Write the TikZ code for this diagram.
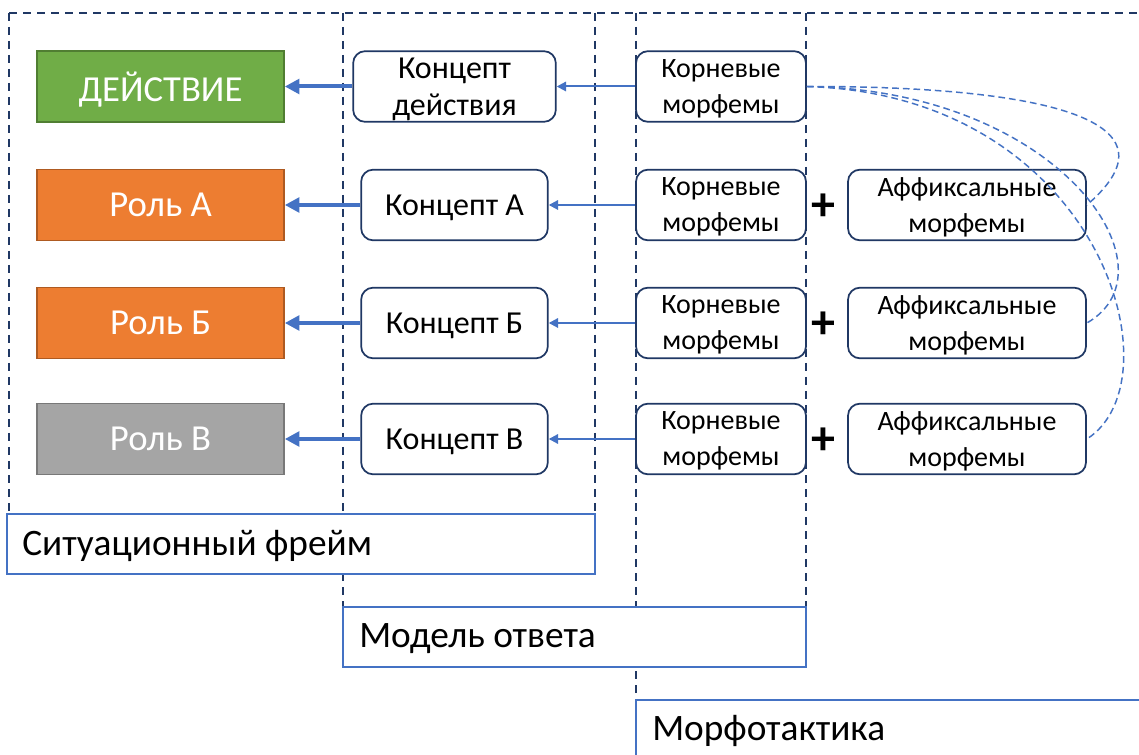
\documentclass[tikz,border=0pt]{standalone}
\usepackage{fontspec}
\setmainfont{Carlito}
\usetikzlibrary{arrows.meta}
\definecolor{navy}{HTML}{203864}
\definecolor{accblue}{HTML}{4472C4}
\definecolor{grn}{HTML}{70AD47}
\definecolor{grnd}{HTML}{507E32}
\definecolor{org}{HTML}{ED7D31}
\definecolor{orgd}{HTML}{AE5A21}
\definecolor{gry}{HTML}{A5A5A5}
\definecolor{gryd}{HTML}{787878}
\tikzset{
  framedash/.style={navy, line width=1.3pt, dash pattern=on 6pt off 4.5pt},
  rolebox/.style={rectangle, draw, line width=1.2pt, minimum width=185.25pt, minimum height=53pt, text=white, font=\fontsize{27.5}{30}\selectfont, inner sep=0pt, text depth=0pt},
  conbox/.style={rectangle, rounded corners=9pt, draw=navy, fill=white, line width=1.3pt, minimum height=53pt, inner sep=0pt, align=center, font=\fontsize{24}{27.5}\selectfont, text depth=0pt},
  morbox/.style={rectangle, rounded corners=9pt, draw=navy, fill=white, line width=1.3pt, minimum height=53pt, inner sep=0pt, align=center, font=\fontsize{21}{27}\selectfont, text depth=0pt},
  labbox/.style={rectangle, draw=accblue, fill=white, line width=1.4pt},
  labtext/.style={anchor=west, inner sep=0pt, font=\fontsize{28}{32}\selectfont},
  thickarr/.style={accblue, line width=3pt, -{Triangle[length=11pt,width=11pt]}},
  thinarr/.style={accblue, line width=1.5pt, -{Triangle[length=7pt,width=7pt]}},
  curvedash/.style={accblue, line width=1.1pt, dash pattern=on 5pt off 3pt},
  plussign/.style={font=\fontsize{36}{40}\selectfont\bfseries, inner sep=0pt}
}
\begin{document}
\begin{tikzpicture}[x=0.75pt, y=-0.75pt]
\clip (0,0) rectangle (1139,755);
\fill[white] (0,0) rectangle (1139,755);
% dashed frames
\draw[framedash] (9,13) -- (1139,13);
\draw[framedash] (9,13) -- (9,514);
\draw[framedash] (595,13) -- (595,514);
\draw[framedash] (343,13) -- (343,607);
\draw[framedash] (806,13) -- (806,607);
\draw[framedash] (636,13) -- (636,700);
% label boxes
\draw[labbox] (7,514) rectangle (595,574);
\node[labtext] (lab1) at (22,546) {Ситуационный фрейм};
\draw[labbox] (343,607) rectangle (806,667);
\node[labtext] (lab2) at (359,639) {Модель ответа};
\draw[labbox] (636,700) rectangle (1150,770);
\node[labtext] (lab3) at (652,731) {Морфотактика};
% role boxes
\node[rolebox, fill=grn, draw=grnd] (r0) at (160.5,86.5) {ДЕЙСТВИЕ};
\node[rolebox, fill=org, draw=orgd] (r1) at (160.5,205) {Роль А};
\node[rolebox, fill=org, draw=orgd] (r2) at (160.5,323) {Роль Б};
\node[rolebox, fill=gry, draw=gryd] (r3) at (160.5,439) {Роль В};
% concept boxes
\node[conbox, minimum width=152pt] (c0) at (454.5,86.5) {Концепт\\действия};
\node[conbox, minimum width=140pt] (c1) at (454.5,205) {Концепт А};
\node[conbox, minimum width=140pt] (c2) at (454.5,323) {Концепт Б};
\node[conbox, minimum width=140pt] (c3) at (454.5,439) {Концепт В};
% root morpheme boxes
\node[morbox, minimum width=127.5pt] (k0) at (721,86.5) {Корневые\\морфемы};
\node[morbox, minimum width=127.5pt] (k1) at (721,205) {Корневые\\морфемы};
\node[morbox, minimum width=127.5pt] (k2) at (721,323) {Корневые\\морфемы};
\node[morbox, minimum width=127.5pt] (k3) at (721,439) {Корневые\\морфемы};
% plus signs
\node[plussign] (p1) at (823,207) {+};
\node[plussign] (p2) at (823,325) {+};
\node[plussign] (p3) at (823,441) {+};
% affix boxes
\node[morbox, minimum width=178.5pt] (a1) at (967,205) {Аффиксальные\\морфемы};
\node[morbox, minimum width=178.5pt] (a2) at (967,323) {Аффиксальные\\морфемы};
\node[morbox, minimum width=178.5pt] (a3) at (967,439) {Аффиксальные\\морфемы};
% arrows
\draw[thickarr] (c0.west) -- (r0.east);
\draw[thickarr] (c1.west) -- (r1.east);
\draw[thickarr] (c2.west) -- (r2.east);
\draw[thickarr] (c3.west) -- (r3.east);
\draw[thinarr] (k0.west) -- (c0.east);
\draw[thinarr] (k1.west) -- (c1.east);
\draw[thinarr] (k2.west) -- (c2.east);
\draw[thinarr] (k3.west) -- (c3.east);
% dashed curves
\draw[curvedash] (k0.east) .. controls (1010,86) and (1195,112) .. (a1.east);
\draw[curvedash] (k0.east) .. controls (1060,90) and (1180,270) .. (a2.east);
\draw[curvedash] (k0.east) .. controls (1100,95) and (1180,380) .. (a3.east);
\end{tikzpicture}
\end{document}
